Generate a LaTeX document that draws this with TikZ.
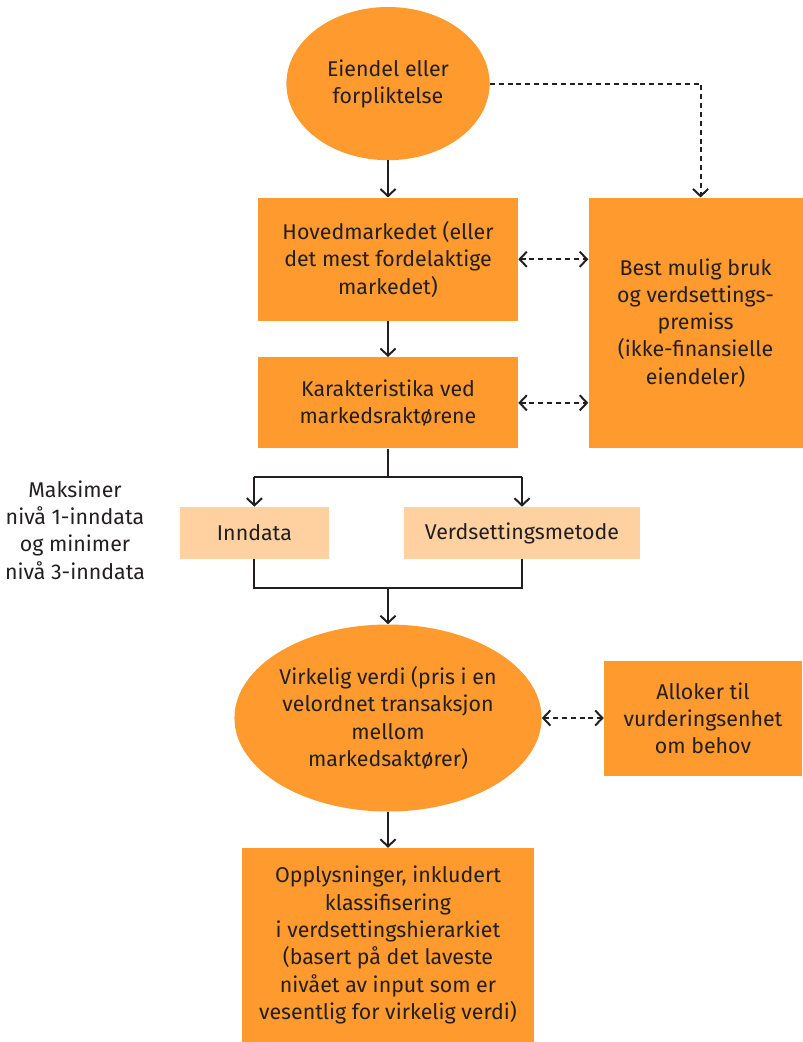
\documentclass[tikz,border=0pt]{standalone}
\usepackage{fontspec}
\setmainfont{Fira Sans}
\usepackage{tikz}
\usetikzlibrary{shapes.geometric, arrows.meta, positioning, calc}
\definecolor{myorange}{RGB}{255,154,46}
\definecolor{mypeach}{RGB}{255,208,160}
\definecolor{mydark}{RGB}{35,31,32}
\tikzset{
  block/.style={rectangle, fill=myorange, align=center, inner sep=0pt,
    font=\fontsize{15.2}{19.4}\selectfont, text=mydark},
  ellblock/.style={ellipse, fill=myorange, align=center, inner sep=0pt,
    font=\fontsize{15.2}{19.4}\selectfont, text=mydark},
  lightblock/.style={rectangle, fill=mypeach, align=center, inner sep=0pt,
    font=\fontsize{15.2}{19.4}\selectfont, text=mydark},
  notetext/.style={align=center, font=\fontsize{15.2}{19.4}\selectfont, text=mydark},
  arrow/.style={-{Straight Barb[length=1.8mm, width=3.8mm]}, line width=1.4pt, color=mydark},
  dasharrow/.style={-{Straight Barb[length=1.8mm, width=3.8mm]}, line width=1.4pt, color=mydark,
    dash pattern=on 3.5pt off 2.8pt},
  dbldash/.style={{Straight Barb[length=1.8mm, width=3.8mm]}-{Straight Barb[length=1.8mm, width=3.8mm]},
    line width=1.4pt, color=mydark, dash pattern=on 3.5pt off 2.8pt},
  line/.style={line width=1.4pt, color=mydark}
}

\begin{document}
\begin{tikzpicture}[node distance=0.9cm and 1.75cm]
  \useasboundingbox (0,0) rectangle (20.05,-26.05);

  % Nodes
  \node[ellblock, minimum width=5.08cm, minimum height=3.83cm] (top) at (9.7,-2.09) {Eiendel eller\\forpliktelse};
  \node[block, minimum width=6.5cm, minimum height=3.075cm, below=0.925cm of top] (hoved) {Hovedmarkedet (eller\\det mest fordelaktige\\markedet)};
  \node[block, minimum width=6.5cm, minimum height=2.275cm, below=of hoved] (karak) {Karakteristika ved\\markedsraktørene};
  \node[block, minimum width=5.35cm, minimum height=6.25cm, anchor=north west] (best) at ([xshift=1.75cm]hoved.north east) {Best mulig bruk\\og verdsettings-\\premiss\\(ikke-finansielle\\eiendeler)};
  \node[lightblock, minimum width=3.725cm, minimum height=1.3cm] (inndata) at (6.36,-13.325) {Inndata};
  \node[lightblock, minimum width=5.9cm, minimum height=1.3cm] (metode) at (13.05,-13.325) {Verdsettingsmetode};
  \node[notetext] (maks) at (1.875,-13.25) {Maksimer\\nivå 1-inndata\\og minimer\\nivå 3-inndata};
  \node[ellblock, minimum width=7.33cm, minimum height=4.675cm] (virk) at (9.7,-17.95) {Virkelig verdi (pris i en\\velordnet transaksjon\\mellom\\markedsaktører)};
  \node[block, minimum width=4.95cm, minimum height=2.875cm] (allok) at (17.575,-17.96) {Alloker til\\vurderingsenhet\\om behov};
  \node[block, minimum width=7.3cm, minimum height=4.85cm, below=of virk] (oppl) {Opplysninger, inkludert\\klassifisering\\i verdsettingshierarkiet\\(basert på det laveste\\nivået av input som er\\vesentlig for virkelig verdi)};

  \coordinate (split) at (9.7,-11.925);
  \coordinate (join) at (9.7,-14.7);

  % Paths
  \draw[arrow] (top) -- (hoved);
  \draw[arrow] (hoved) -- (karak);
  \draw[dasharrow] (top.east) -| ([xshift=0.125cm]best.north);
  \draw[dbldash] (hoved.east) -- (hoved.east -| best.west);
  \draw[dbldash] (karak.east) -- (karak.east -| best.west);
  \draw[line] (karak) -- (split);
  \draw[line] (inndata.north |- split) -- (metode.north |- split);
  \draw[arrow] (inndata.north |- split) -- (inndata.north);
  \draw[arrow] (metode.north |- split) -- (metode.north);
  \draw[line] (inndata.south) -- (inndata.south |- join) -- (metode.south |- join) -- (metode.south);
  \draw[arrow] (join) -- (virk);
  \draw[dbldash] (virk.east) -- (virk.east -| allok.west);
  \draw[arrow] (virk) -- (oppl);

\end{tikzpicture}
\end{document}
